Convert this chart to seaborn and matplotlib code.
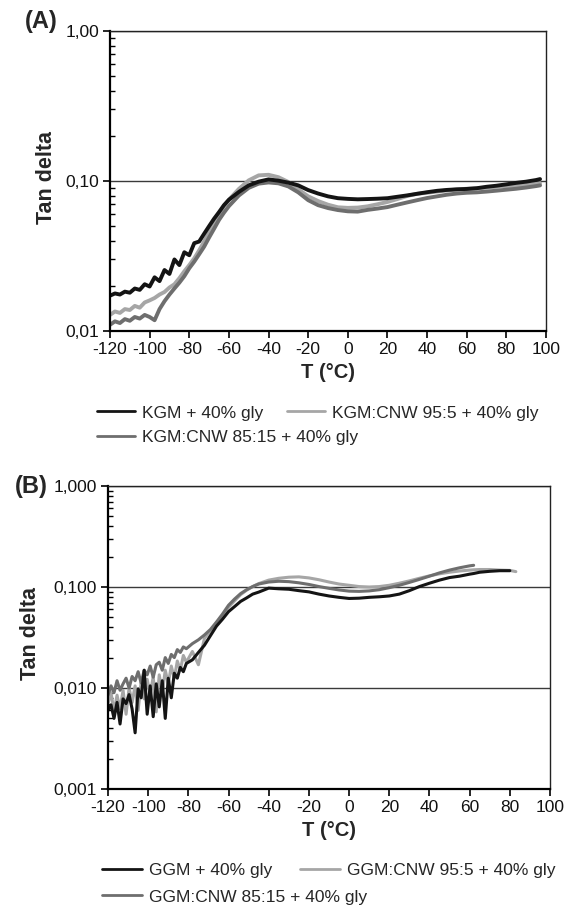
import matplotlib
matplotlib.use("Agg")
import matplotlib.pyplot as plt
import pandas as pd
import seaborn as sns
from matplotlib.lines import Line2D
from matplotlib.ticker import FixedLocator, FixedFormatter, LogLocator, NullFormatter

# ---------------- data ----------------
x_ticks = [-120, -100, -80, -60, -40, -20, 0, 20, 40, 60, 80, 100]
x_tick_labels = ["-120", "-100", "-80", "-60", "-40", "-20", "0", "20", "40", "60", "80", "100"]

ya_ticks = [0.01, 0.1, 1.0]
ya_tick_labels = ["0,01", "0,10", "1,00"]
yb_ticks = [0.001, 0.01, 0.1, 1.0]
yb_tick_labels = ["0,001", "0,010", "0,100", "1,000"]

labels_a = ["KGM + 40% gly", "KGM:CNW 95:5 + 40% gly", "KGM:CNW 85:15 + 40% gly"]
labels_b = ["GGM + 40% gly", "GGM:CNW 95:5 + 40% gly", "GGM:CNW 85:15 + 40% gly"]

# Panel A: temperature (°C)
t_a = [-120, -117.5, -115, -112.5, -110, -107.5, -105, -102.5, -100, -97.5, -95, -92.5,
       -90, -87.5, -85, -82.5, -80, -77.5, -75, -72.5, -70, -67.5, -65, -62.5, -60,
       -55, -50, -45, -40, -35, -30, -25, -20, -15, -10, -5, 0, 5, 10, 15, 20, 25, 30,
       35, 40, 45, 50, 55, 60, 65, 70, 75, 80, 85, 90, 95, 97]
a_kgm = [0.0172, 0.0178, 0.0175, 0.0183, 0.0180, 0.0192, 0.0188, 0.0205, 0.0198, 0.0228,
         0.0215, 0.0255, 0.0240, 0.0300, 0.0275, 0.0335, 0.0320, 0.0385, 0.0395, 0.0445,
         0.0500, 0.0560, 0.0620, 0.0690, 0.0750,
         0.0845, 0.0935, 0.0990, 0.1025, 0.1005, 0.0975, 0.0935, 0.0870, 0.0825, 0.0790,
         0.0768, 0.0760, 0.0755, 0.0758, 0.0762, 0.0768, 0.0785, 0.0802, 0.0822, 0.0842,
         0.0860, 0.0872, 0.0880, 0.0885, 0.0895, 0.0915, 0.0930, 0.0950, 0.0972, 0.0990,
         0.1015, 0.1030]
a_kgm_95 = [0.0128, 0.0135, 0.0132, 0.0140, 0.0138, 0.0147, 0.0143, 0.0155, 0.0160, 0.0166,
            0.0175, 0.0182, 0.0195, 0.0205, 0.0225, 0.0250, 0.0275, 0.0305, 0.0345, 0.0395,
            0.0455, 0.0520, 0.0600, 0.0680, 0.0750,
            0.0885, 0.1010, 0.1090, 0.1100, 0.1060, 0.0985, 0.0880, 0.0790, 0.0735, 0.0695,
            0.0668, 0.0662, 0.0665, 0.0678, 0.0700, 0.0725, 0.0758, 0.0795, 0.0822, 0.0835,
            0.0850, 0.0865, 0.0878, 0.0888, 0.0895, 0.0902, 0.0915, 0.0925, 0.0928, 0.0940,
            0.0960, 0.0968]
a_kgm_85 = [0.0110, 0.0116, 0.0113, 0.0120, 0.0117, 0.0124, 0.0121, 0.0128, 0.0124, 0.0118,
            0.0140, 0.0158, 0.0175, 0.0192, 0.0210, 0.0232, 0.0262, 0.0290, 0.0325, 0.0365,
            0.0420, 0.0480, 0.0550, 0.0615, 0.0680,
            0.0800, 0.0900, 0.0960, 0.0978, 0.0965, 0.0920, 0.0840, 0.0745, 0.0690, 0.0660,
            0.0640, 0.0628, 0.0625, 0.0642, 0.0655, 0.0670, 0.0695, 0.0720, 0.0745, 0.0770,
            0.0790, 0.0810, 0.0825, 0.0835, 0.0840, 0.0850, 0.0862, 0.0875, 0.0888, 0.0905,
            0.0925, 0.0935]

# Panel B: temperature (°C)
t_b = [-120, -118.5, -117, -115.5, -114, -112.5, -111, -109.5, -108, -106.5, -105, -103.5,
       -102, -100.5, -99, -97.5, -96, -94.5, -93, -91.5, -90, -88.5, -87, -85.5, -84,
       -82.5, -81,
       -78, -75, -72, -69, -66, -63, -60, -57, -54, -51, -48,
       -45, -40, -35, -30, -25, -20, -15, -10, -5, 0, 5, 10, 15, 20, 25, 30, 35, 40,
       45, 50, 55, 60,
       62, 65, 70, 75, 80, 83]
b_ggm = [0.0060, 0.0068, 0.0050, 0.0072, 0.0044, 0.0078, 0.0070, 0.0086, 0.0062, 0.0036,
         0.0098, 0.0080, 0.0150, 0.0055, 0.0105, 0.0052, 0.0110, 0.0065, 0.0118, 0.0050,
         0.0125, 0.0080, 0.0140, 0.0125, 0.0160, 0.0145, 0.0175,
         0.0190, 0.0225, 0.0265, 0.0330, 0.0410, 0.0480, 0.0570, 0.0640, 0.0720, 0.0780,
         0.0850,
         0.0890, 0.0975, 0.0960, 0.0950, 0.0920, 0.0895, 0.0850, 0.0815, 0.0790, 0.0770,
         0.0775, 0.0790, 0.0800, 0.0815, 0.0850, 0.0920, 0.1010, 0.1090, 0.1170, 0.1240,
         0.1280, 0.1340,
         0.1360, 0.1400, 0.1430, 0.1450, 0.1450]
b_ggm_95 = [0.0070, 0.0090, 0.0058, 0.0085, 0.0062, 0.0095, 0.0055, 0.0100, 0.0072, 0.0105,
            0.0060, 0.0115, 0.0078, 0.0122, 0.0085, 0.0130, 0.0058, 0.0135, 0.0090, 0.0150,
            0.0110, 0.0165, 0.0125, 0.0185, 0.0150, 0.0210, 0.0180,
            0.0230, 0.0170, 0.0310, 0.0370, 0.0440, 0.0520, 0.0630, 0.0730, 0.0840, 0.0930,
            0.1010,
            0.1080, 0.1170, 0.1220, 0.1250, 0.1260, 0.1230, 0.1180, 0.1120, 0.1070, 0.1040,
            0.1010, 0.1000, 0.1010, 0.1040, 0.1090, 0.1150, 0.1220, 0.1290, 0.1350, 0.1400,
            0.1440, 0.1470,
            0.1480, 0.1490, 0.1490, 0.1470, 0.1460, 0.1420]
b_ggm_85 = [0.0085, 0.0105, 0.0090, 0.0118, 0.0095, 0.0110, 0.0125, 0.0100, 0.0130, 0.0118,
            0.0145, 0.0112, 0.0150, 0.0135, 0.0165, 0.0128, 0.0170, 0.0180, 0.0150, 0.0200,
            0.0175, 0.0215, 0.0200, 0.0240, 0.0225, 0.0255, 0.0245,
            0.0275, 0.0300, 0.0335, 0.0380, 0.0450, 0.0540, 0.0660, 0.0760, 0.0860, 0.0940,
            0.1010,
            0.1070, 0.1120, 0.1140, 0.1130, 0.1100, 0.1060, 0.1010, 0.0970, 0.0935, 0.0910,
            0.0905, 0.0915, 0.0940, 0.0985, 0.1040, 0.1110, 0.1190, 0.1280, 0.1380, 0.1470,
            0.1550, 0.1620,
            0.1640]

# ---------------- style ----------------
sns.set_style("white")
plt.rcParams["font.family"] = ["Liberation Sans", "DejaVu Sans"]

COL_BLACK = "#141414"
COL_LIGHT = "#a6a6a6"
COL_MID = "#6e6e6e"
colors = [COL_BLACK, COL_LIGHT, COL_MID]

W, H = 579, 908
fig = plt.figure(figsize=(W / 100, H / 100), dpi=100)


def rect(l, r, t, b):
    return [l / W, 1 - b / H, (r - l) / W, (b - t) / H]


def long_df(t, series, names):
    frames = []
    for vals, name in zip(series, names):
        frames.append(pd.DataFrame({"T": t[:len(vals)], "tan": vals, "sample": name}))
    return pd.concat(frames, ignore_index=True)


def style_axes(ax, yticks, ylabels, ylim):
    ax.set_yscale("log")
    ax.set_ylim(*ylim)
    ax.set_xlim(-120, 100)
    ax.xaxis.set_major_locator(FixedLocator(x_ticks))
    ax.xaxis.set_major_formatter(FixedFormatter(x_tick_labels))
    ax.yaxis.set_major_locator(FixedLocator(yticks))
    ax.yaxis.set_major_formatter(FixedFormatter(ylabels))
    ax.yaxis.set_minor_locator(LogLocator(base=10, subs=(2, 3, 4, 5, 6, 7, 8, 9)))
    ax.yaxis.set_minor_formatter(NullFormatter())
    ax.tick_params(axis="both", which="major", direction="out", length=5, width=1.2,
                   labelsize=12.5, pad=3, color="black", labelcolor="#111111",
                   bottom=True, left=True)
    ax.tick_params(axis="y", which="minor", direction="in", length=3.5, width=1.0,
                   left=True, color="black")
    ax.tick_params(axis="x", which="minor", bottom=False)
    ax.yaxis.grid(True, which="major", color="#3a3a3a", linewidth=1.0)
    ax.xaxis.grid(False)
    ax.set_axisbelow(True)
    for side in ["top", "right"]:
        ax.spines[side].set_linewidth(1.0)
        ax.spines[side].set_color("#222222")
    for side in ["left", "bottom"]:
        ax.spines[side].set_linewidth(1.6)
        ax.spines[side].set_color("black")
    ax.set_xlabel("T (°C)", fontsize=14.5, fontweight="bold")
    ax.set_ylabel("Tan delta", fontsize=15.5, fontweight="bold")


draw_order = [1, 2, 0]  # light, mid, black on top

# ---------------- panel A ----------------
axA = fig.add_axes(rect(110, 546, 31, 331))
dfA = long_df(t_a, [a_kgm, a_kgm_95, a_kgm_85], labels_a)
for i in draw_order:
    sub = dfA[dfA["sample"] == labels_a[i]]
    sns.lineplot(data=sub, x="T", y="tan", color=colors[i], linewidth=2.8,
                 estimator=None, sort=False, ax=axA, legend=False)
style_axes(axA, ya_ticks, ya_tick_labels, (0.01, 1.0))
axA.xaxis.set_label_coords(0.499, (331 - 372) / 300)
axA.xaxis.label.set_va("center")
axA.yaxis.set_label_coords((46 - 110) / 436, (331 - 177) / 300)
axA.yaxis.label.set_va("center")

# ---------------- panel B ----------------
axB = fig.add_axes(rect(108, 550, 486, 789))
dfB = long_df(t_b, [b_ggm, b_ggm_95, b_ggm_85], labels_b)
for i in draw_order:
    sub = dfB[dfB["sample"] == labels_b[i]]
    sns.lineplot(data=sub, x="T", y="tan", color=colors[i], linewidth=2.2,
                 estimator=None, sort=False, ax=axB, legend=False)
style_axes(axB, yb_ticks, yb_tick_labels, (0.001, 1.0))
axB.xaxis.set_label_coords(0.499, (789 - 830) / 303)
axB.xaxis.label.set_va("center")
axB.yaxis.set_label_coords((31 - 108) / 442, (789 - 634) / 303)
axB.yaxis.label.set_va("center")

# ---------------- legends (placed entry by entry) ----------------
def add_entry(x, y, color, label, hlen_px):
    fs = 12.5
    fs_px = fs * 100 / 72
    h = Line2D([], [], color=color, linewidth=2.0)
    fig.legend(handles=[h], labels=[label], loc="center left",
               bbox_to_anchor=(x / W, 1 - y / H), frameon=False, borderpad=0,
               borderaxespad=0, handlelength=hlen_px / fs_px,
               handletextpad=7 / fs_px, fontsize=fs)


add_entry(97, 413, COL_BLACK, labels_a[0], 38)
add_entry(287, 413, COL_LIGHT, labels_a[1], 38)
add_entry(97, 437, COL_MID, labels_a[2], 38)

add_entry(102, 870, COL_BLACK, labels_b[0], 40)
add_entry(300, 870, COL_LIGHT, labels_b[1], 40)
add_entry(102, 897, COL_MID, labels_b[2], 40)

# ---------------- panel letters ----------------
fig.text(41.5 / W, 1 - 21.5 / H, "(A)", fontsize=17, fontweight="bold",
         ha="center", va="center")
fig.text(31 / W, 1 - 487 / H, "(B)", fontsize=17, fontweight="bold",
         ha="center", va="center")

fig.savefig("out.png", dpi=100)
